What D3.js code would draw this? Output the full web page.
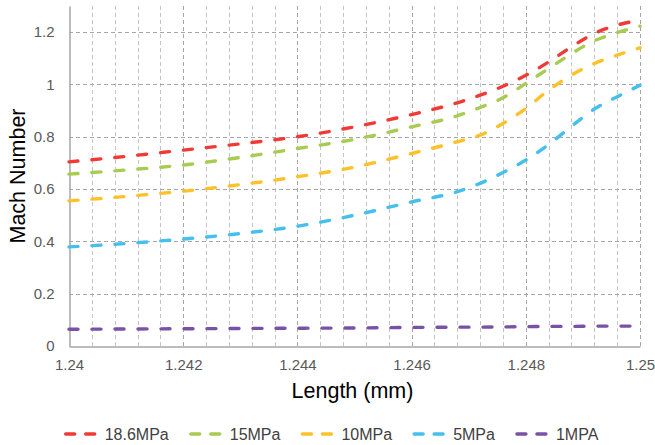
<!DOCTYPE html>
<html>
<head>
<meta charset="utf-8">
<script src="https://cdn.jsdelivr.net/npm/d3@7"></script>
<style>
  body { margin: 0; background: #fff; }
  svg { display: block; font-family: "Liberation Sans", Arial, sans-serif; }
</style>
</head>
<body>
<div id="chart"></div>
<script>
// chart data
var lengths = [1.24, 1.241, 1.242, 1.243, 1.244, 1.245, 1.246, 1.2468, 1.2472, 1.2476, 1.248, 1.2484, 1.2488, 1.2492, 1.2496, 1.25];
var mach186 = [0.704, 0.725, 0.749, 0.773, 0.800, 0.838, 0.885, 0.930, 0.959, 0.993, 1.035, 1.086, 1.144, 1.195, 1.227, 1.246];
var mach15  = [0.657, 0.673, 0.692, 0.721, 0.755, 0.790, 0.838, 0.880, 0.912, 0.949, 1.004, 1.061, 1.118, 1.167, 1.198, 1.223];
var mach10  = [0.555, 0.572, 0.592, 0.617, 0.647, 0.684, 0.736, 0.781, 0.806, 0.851, 0.908, 0.978, 1.036, 1.080, 1.112, 1.140];
var mach5   = [0.379, 0.392, 0.409, 0.430, 0.458, 0.500, 0.551, 0.590, 0.622, 0.663, 0.711, 0.770, 0.840, 0.906, 0.953, 0.997];
var mach1   = [0.064, 0.065, 0.066, 0.067, 0.068, 0.069, 0.071, 0.072, 0.072, 0.073, 0.074, 0.075, 0.075, 0.076, 0.076, 0.076];

var seriesNames = ["18.6MPa", "15MPa", "10MPa", "5MPa", "1MPA"];
var seriesColors = ["#f03a36", "#a8cb52", "#fdc12a", "#45c0ec", "#7a52a5"];
var seriesValues = [mach186, mach15, mach10, mach5, mach1];

var xTicks = [1.24, 1.242, 1.244, 1.246, 1.248, 1.25];
var yTicks = [0, 0.2, 0.4, 0.6, 0.8, 1, 1.2];

var W = 655, H = 445;
var margin = {left: 69, right: 15, top: 6, bottom: 99};

var svg = d3.select("#chart").append("svg")
    .attr("width", W)
    .attr("height", H);

var x = d3.scaleLinear().domain([1.24, 1.25]).range([margin.left, W - margin.right]);
var y = d3.scaleLinear().domain([0, 1.3]).range([H - margin.bottom, margin.top]);

// minor vertical grid every 0.0004
var minor = d3.range(1, 25).map(function(i){ return 1.24 + i * 0.0004; })
    .filter(function(v){ return Math.abs(((v - 1.24) / 0.002) - Math.round((v - 1.24) / 0.002)) > 1e-6; });

svg.append("g").selectAll("line")
    .data(minor)
    .enter().append("line")
    .attr("x1", function(d){ return Math.round(x(d)) + 0.5; })
    .attr("x2", function(d){ return Math.round(x(d)) + 0.5; })
    .attr("y1", y(1.3))
    .attr("y2", y(0))
    .style("stroke", "#c4c4c4")
    .style("stroke-width", 1)
    .style("stroke-dasharray", "4,3");

svg.append("g").selectAll("line")
    .data(xTicks.slice(1))
    .enter().append("line")
    .attr("x1", function(d){ return Math.round(x(d)) + 0.5; })
    .attr("x2", function(d){ return Math.round(x(d)) + 0.5; })
    .attr("y1", y(1.3))
    .attr("y2", y(0))
    .style("stroke", "#a6a6a6")
    .style("stroke-width", 1)
    .style("stroke-dasharray", "4,3");

svg.append("g").selectAll("line")
    .data(yTicks.slice(1))
    .enter().append("line")
    .attr("x1", x(1.24))
    .attr("x2", x(1.25))
    .attr("y1", function(d){ return Math.round(y(d)) + 0.5; })
    .attr("y2", function(d){ return Math.round(y(d)) + 0.5; })
    .style("stroke", "#a6a6a6")
    .style("stroke-width", 1)
    .style("stroke-dasharray", "4,3");

// axes
var xAxis = svg.append("g")
    .attr("transform", "translate(0," + (Math.round(y(0)) + 0.5) + ")")
    .call(d3.axisBottom(x).tickValues(xTicks).tickSize(0).tickPadding(13).tickFormat(function(d){ return +d.toFixed(3); }));
var yAxis = svg.append("g")
    .attr("transform", "translate(" + (Math.round(x(1.24)) + 0.5) + ",0)")
    .call(d3.axisLeft(y).tickValues(yTicks).tickSize(0).tickPadding(15).tickFormat(function(d){ return +d.toFixed(1); }));

[xAxis, yAxis].forEach(function(ax){
    ax.select(".domain").style("stroke", "#a6a6a6").style("stroke-width", 1.5);
    ax.selectAll("text")
        .style("font-size", "15px")
        .style("fill", "#595959")
        .style("font-family", "'Liberation Sans', Arial, sans-serif");
});

// series
var line = d3.line()
    .x(function(d){ return x(d[0]); })
    .y(function(d){ return y(d[1]); })
    .curve(d3.curveMonotoneX);

seriesValues.slice().reverse().forEach(function(vals, r){
    var i = seriesValues.length - 1 - r;
    svg.append("path")
        .datum(lengths.map(function(l, k){ return [l, vals[k]]; }))
        .attr("d", line)
        .style("fill", "none")
        .style("stroke", seriesColors[i])
        .style("stroke-width", 3.4)
        .style("stroke-linecap", "round")
        .style("stroke-dasharray", "9,14");
});

// axis titles
svg.append("text")
    .attr("x", (x(1.24) + x(1.25)) / 2 - 2)
    .attr("y", 398)
    .attr("text-anchor", "middle")
    .style("font-size", "21.5px")
    .style("fill", "#000")
    .text("Length  (mm)");

svg.append("text")
    .attr("transform", "translate(25," + ((y(0) + y(1.3)) / 2) + ") rotate(-90)")
    .attr("text-anchor", "middle")
    .style("font-size", "21.5px")
    .style("fill", "#000")
    .text("Mach Number");

// legend
var legend = svg.append("g");
var lx = 0;
seriesNames.forEach(function(name, i){
    var g = legend.append("g").attr("transform", "translate(" + lx + ",0)");
    g.append("line")
        .attr("x1", 2).attr("x2", 33)
        .attr("y1", 0).attr("y2", 0)
        .style("stroke", seriesColors[i])
        .style("stroke-width", 3.4)
        .style("stroke-linecap", "round")
        .style("stroke-dasharray", "9,11");
    var t = g.append("text")
        .attr("x", 41)
        .attr("y", 6)
        .style("font-size", "16px")
        .style("fill", "#404040")
        .text(name);
    lx += 41 + t.node().getComputedTextLength() + 20;
});
var legendW = lx - 20;
legend.attr("transform", "translate(" + (331 - legendW / 2) + ",434)");
</script>
</body>
</html>
